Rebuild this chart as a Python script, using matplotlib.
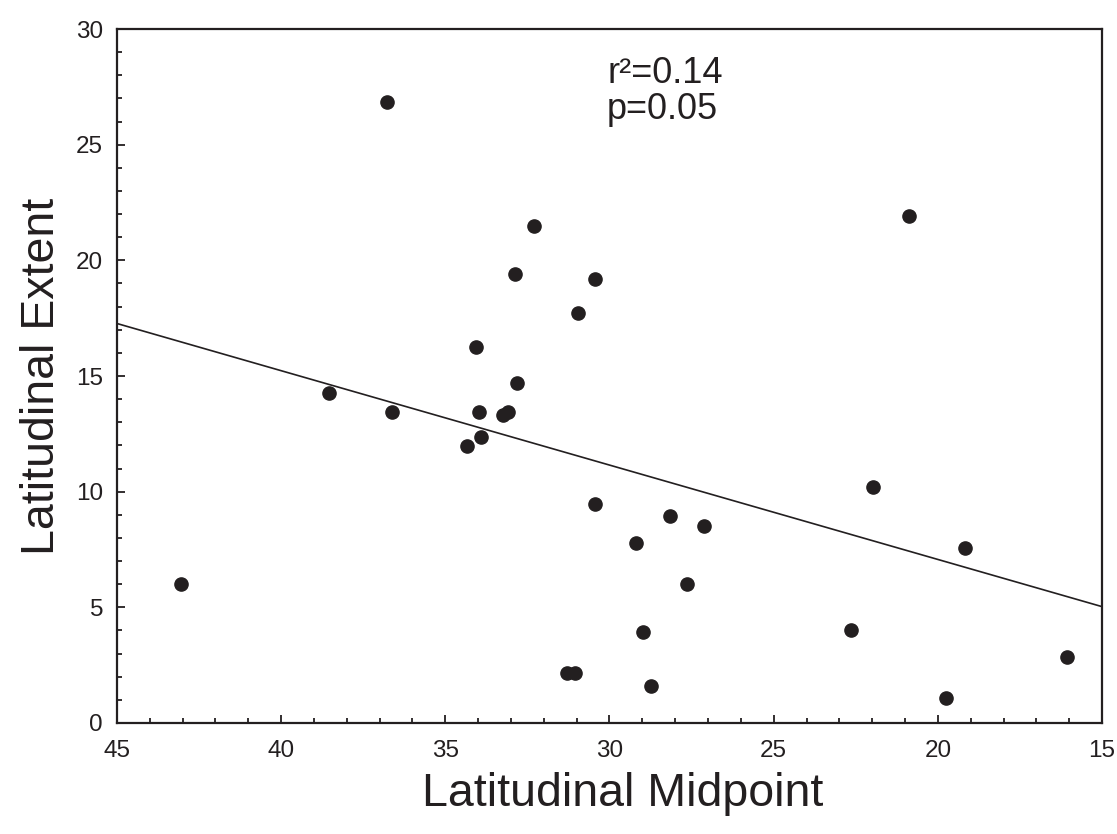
import matplotlib
matplotlib.use("Agg")
import matplotlib.pyplot as plt
import numpy as np
from matplotlib.ticker import MultipleLocator

plt.rcParams["font.family"] = ["Liberation Sans", "DejaVu Sans"]

# latitudinal midpoint (deg) vs latitudinal extent (deg)
midpoint = [43.04, 36.79, 38.54, 36.63, 34.35, 34.06, 32.29, 32.87, 30.45, 30.96,
            32.81, 33.98, 33.23, 33.08, 33.90, 30.44, 28.16, 27.13, 29.19, 27.65,
            28.97, 31.30, 31.06, 28.74, 20.87, 21.96, 19.18, 22.63, 16.07, 19.75]
extent = [6.01, 26.83, 14.25, 13.43, 11.98, 16.26, 21.49, 19.40, 19.18, 17.71,
          14.69, 13.43, 13.33, 13.45, 12.38, 9.47, 8.94, 8.52, 7.80, 6.01,
          3.92, 2.15, 2.15, 1.60, 21.91, 10.19, 7.58, 4.02, 2.87, 1.09]

# regression line as printed (extent = intercept + slope * midpoint)
fit_intercept = -1.09
fit_slope = 0.408
r2_text = "r\u00b2=0.14"
p_text = "p=0.05"

fig = plt.figure(figsize=(11.17, 8.34), dpi=100)
ax = fig.add_axes([0.1047, 0.1331, 0.8819, 0.8321])

ink = "#231f20"
xs = np.array([45, 15])
ax.plot(xs, fit_intercept + fit_slope * xs, color=ink, lw=1.2, zorder=2)
ax.plot(midpoint, extent, "o", ms=9.5, color=ink, mec=ink, zorder=3)

ax.set_xlim(45, 15)
ax.set_ylim(0, 30)
ax.xaxis.set_major_locator(MultipleLocator(5))
ax.xaxis.set_minor_locator(MultipleLocator(1))
ax.yaxis.set_major_locator(MultipleLocator(5))
ax.yaxis.set_minor_locator(MultipleLocator(1))
ax.tick_params(which="both", direction="in", top=False, right=False,
               width=1.3, color=ink, labelcolor=ink)
ax.tick_params(which="major", length=6, labelsize=17.5)
ax.tick_params(axis="x", which="major", pad=12)
ax.tick_params(axis="y", which="major", pad=10)
ax.tick_params(which="minor", length=3.5)
for sp in ax.spines.values():
    sp.set_linewidth(1.6)
    sp.set_color(ink)

ax.text(0.4975, 0.9225, r2_text, transform=ax.transAxes, fontsize=26,
        color=ink, va="baseline", ha="left")
ax.text(0.4975, 0.870, p_text, transform=ax.transAxes, fontsize=26,
        color=ink, va="baseline", ha="left")

fig.text(0.5577, 0.033, "Latitudinal Midpoint", fontsize=33.5, color=ink,
         ha="center", va="baseline")
fig.text(0.038, 0.549, "Latitudinal Extent", fontsize=33.5, color=ink,
         ha="center", va="center", rotation=90)

fig.savefig("out.png", dpi=100)
